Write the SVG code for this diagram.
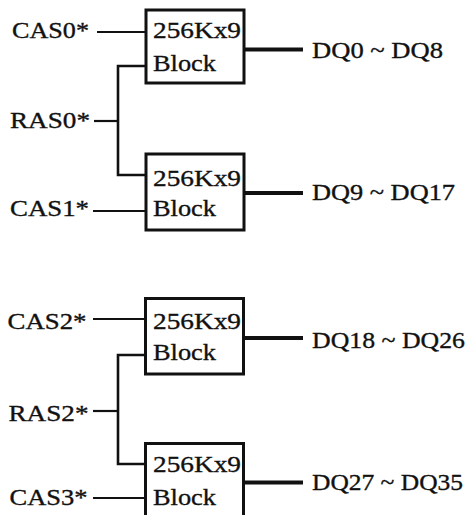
<svg xmlns="http://www.w3.org/2000/svg" width="471" height="515" viewBox="0 0 471 515">
<style>
.t{font-family:"Liberation Serif","Times New Roman",serif;font-size:23.5px;fill:#111;stroke:#111;stroke-width:0.35;}
.box{fill:#fff;stroke:#111;stroke-width:3;}
.thin{stroke:#111;stroke-width:2.2;fill:none;}
.trunk{stroke:#111;stroke-width:2.6;fill:none;}
.thick{stroke:#111;stroke-width:4;fill:none;}
</style>
<rect width="471" height="515" fill="#fff"/>
<g id="connectors">
  <line class="thin" x1="97" y1="32" x2="146" y2="32"/>
  <polyline class="trunk" points="146,66 118,66 118,175 146,175"/>
  <line class="thin" x1="94" y1="121" x2="118" y2="121"/>
  <line class="thin" x1="93" y1="211" x2="146" y2="211"/>
  <line class="thick" x1="244" y1="49.5" x2="303" y2="49.5"/>
  <line class="thick" x1="244" y1="193" x2="303" y2="193"/>
  <line class="thin" x1="93" y1="319" x2="146" y2="319"/>
  <polyline class="trunk" points="146,355 118,355 118,464 146,464"/>
  <line class="thin" x1="93" y1="411" x2="118" y2="411"/>
  <line class="thin" x1="93" y1="498" x2="146" y2="498"/>
  <line class="thick" x1="244" y1="338" x2="303" y2="338"/>
  <line class="thick" x1="244" y1="482.5" x2="303" y2="482.5"/>
</g>
<g id="labels">
  <text class="t" x="12" y="37.5" textLength="77" lengthAdjust="spacingAndGlyphs">CAS0*</text>
  <text class="t" x="10" y="127.5" textLength="80" lengthAdjust="spacingAndGlyphs">RAS0*</text>
  <text class="t" x="10" y="216" textLength="79" lengthAdjust="spacingAndGlyphs">CAS1*</text>
  <text class="t" x="7.5" y="329" textLength="79" lengthAdjust="spacingAndGlyphs">CAS2*</text>
  <text class="t" x="8.5" y="421" textLength="80" lengthAdjust="spacingAndGlyphs">RAS2*</text>
  <text class="t" x="9.5" y="505" textLength="78" lengthAdjust="spacingAndGlyphs">CAS3*</text>
  <text class="t" x="312" y="57.5" textLength="131" lengthAdjust="spacingAndGlyphs">DQ0 ~ DQ8</text>
  <text class="t" x="312" y="200" textLength="143" lengthAdjust="spacingAndGlyphs">DQ9 ~ DQ17</text>
  <text class="t" x="312" y="347.5" textLength="153" lengthAdjust="spacingAndGlyphs">DQ18 ~ DQ26</text>
  <text class="t" x="312" y="490" textLength="151" lengthAdjust="spacingAndGlyphs">DQ27 ~ DQ35</text>
</g>
<g id="block0">
  <rect class="box" x="146" y="10" width="98" height="73"/>
  <text class="t" x="153" y="37.5" textLength="88" lengthAdjust="spacingAndGlyphs">256Kx9</text>
  <text class="t" x="153" y="70.5" textLength="63" lengthAdjust="spacingAndGlyphs">Block</text>
</g>
<g id="block1">
  <rect class="box" x="146" y="154" width="98" height="76"/>
  <text class="t" x="153" y="185.5" textLength="88" lengthAdjust="spacingAndGlyphs">256Kx9</text>
  <text class="t" x="153" y="215.5" textLength="63" lengthAdjust="spacingAndGlyphs">Block</text>
</g>
<g id="block2">
  <rect class="box" x="145.5" y="298.5" width="98" height="75.5"/>
  <text class="t" x="153" y="328.5" textLength="88" lengthAdjust="spacingAndGlyphs">256Kx9</text>
  <text class="t" x="153" y="360" textLength="63" lengthAdjust="spacingAndGlyphs">Block</text>
</g>
<g id="block3">
  <rect class="box" x="145.5" y="443.5" width="98" height="80"/>
  <text class="t" x="153" y="472" textLength="88" lengthAdjust="spacingAndGlyphs">256Kx9</text>
  <text class="t" x="153" y="504.5" textLength="63" lengthAdjust="spacingAndGlyphs">Block</text>
</g>
</svg>
